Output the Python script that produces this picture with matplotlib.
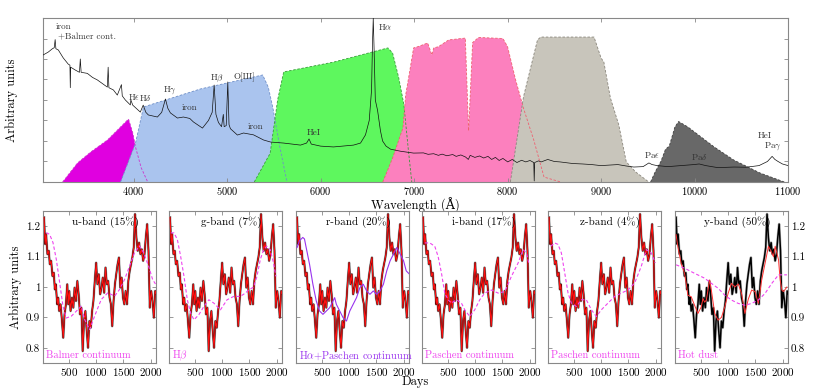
import matplotlib
matplotlib.use("Agg")
import matplotlib.pyplot as plt
import numpy as np

plt.rcParams['font.family'] = ['cmr10', 'DejaVu Serif']
plt.rcParams['mathtext.fontset'] = 'cm'
plt.rcParams['axes.formatter.use_mathtext'] = True
plt.rcParams['axes.unicode_minus'] = False

# ---------------- top panel data ----------------
spec_wl = [3033, 3087, 3130, 3150, 3160, 3168, 3194, 3247, 3300, 3318, 3322, 3326, 3376, 3420, 3429, 3438,
           3504, 3560, 3611, 3680, 3718, 3727, 3735, 3783, 3825, 3869, 3878, 3911, 3964, 3970, 3990,
           4071, 4102, 4130, 4157, 4254, 4300, 4340, 4365, 4393, 4468, 4532, 4600, 4639, 4736, 4800,
           4840, 4861, 4880, 4907, 4940, 4959, 4968, 4990, 5007, 5020, 5035, 5110, 5175, 5282, 5389,
           5464, 5603, 5785, 5850, 5876, 5900, 6000, 6138, 6352, 6427, 6480, 6520, 6545, 6555, 6563,
           6572, 6585, 6609, 6640, 6663, 6700, 6749, 6856, 6995, 7100, 7150, 7209, 7260, 7300, 7350,
           7413, 7450, 7500, 7550, 7580, 7600, 7650, 7700, 7745, 7790, 7830, 7870, 7910, 7950, 8002,
           8050, 8100, 8150, 8195, 8240, 8280, 8285, 8290, 8330, 8360, 8430, 8500, 8560, 8644, 8700,
           8800, 8900, 8998, 9100, 9180, 9270, 9351, 9450, 9512, 9546, 9600, 9715, 9850, 9993, 10050,
           10120, 10250, 10422, 10550, 10690, 10780, 10830, 10860, 10894, 10940, 11001]
spec_flux = [6.2, 6.34, 6.5, 6.55, 6.95, 6.5, 6.44, 6.05, 5.75, 5.7, 4.6, 5.6, 5.46, 5.35, 6.0, 5.35,
             5.3, 5.1, 4.98, 4.75, 4.63, 5.6, 4.6, 4.49, 4.24, 4.75, 4.2, 4.0, 3.76, 4.0, 3.75,
             3.41, 3.75, 3.4, 3.27, 3.17, 3.4, 4.05, 3.6, 3.37, 3.12, 3.17, 3.1, 2.93, 2.63, 3.0,
             3.4, 4.73, 3.3, 2.9, 2.7, 3.3, 2.7, 2.75, 4.88, 2.8, 2.6, 2.29, 2.39, 2.3, 2.05,
             1.95, 1.9, 1.8, 1.9, 2.1, 1.85, 1.75, 1.71, 1.8, 1.9, 2.3, 3.0, 4.5, 6.8, 8.0,
             6.5, 4.0, 3.5, 2.5, 2.0, 1.75, 1.6, 1.5, 1.41, 1.42, 1.35, 1.38, 1.30, 1.36, 1.28,
             1.34, 1.25, 1.32, 1.22, 1.1, 1.3, 1.2, 1.27, 1.17, 1.25, 1.1, 1.2, 1.05, 1.15, 0.98,
             1.1, 0.95, 1.06, 0.98, 1.05, 0.95, 0.05, 0.95, 1.03, 0.98, 1.1, 1.0, 0.98, 0.93, 0.9,
             0.88, 0.85, 0.8, 0.83, 0.85, 0.78, 0.73, 0.75, 0.93, 0.85, 0.8, 0.75, 0.8, 0.85, 0.88,
             0.8, 0.7, 0.73, 0.72, 0.8, 1.0, 1.25, 1.1, 1.0, 0.88, 0.8]

u_wl = [3240, 3400, 3540, 3720, 3945, 3990, 4020, 4080, 4150]
u_tr = [0, 0.93, 1.46, 2.05, 3.07, 2.4, 1.7, 0.7, 0]
g_wl = [3860, 4020, 4105, 4716, 5380, 5440, 5490, 5560, 5640]
g_tr = [0, 1.9, 3.66, 4.54, 5.22, 4.63, 3.6, 1.8, 0]
r_wl = [5290, 5460, 5540, 5605, 6140, 6720, 6770, 6835, 6890, 6940, 6975]
r_tr = [0, 1.4, 4.0, 5.37, 5.85, 6.54, 6.29, 5.1, 3.8, 1.5, 0]
i_wl = [6665, 6770, 6880, 6910, 6995, 7040, 7145, 7190, 7210, 7260, 7370, 7548, 7583, 7626, 7690,
        7950, 8000, 8085, 8170, 8280, 8390, 8570]
i_tr = [0, 1.17, 2.63, 4.24, 6.54, 6.6, 6.78, 6.2, 6.54, 6.6, 6.93, 7.02, 2.5, 6.8, 7.05,
        7.0, 6.6, 5.0, 3.6, 2.05, 0.24, 0]
z_wl = [8030, 8170, 8320, 8355, 8925, 9000, 9030, 9100, 9190, 9270, 9370, 9510]
z_tr = [0, 4.15, 6.93, 7.07, 7.07, 6.05, 5.85, 4.1, 2.78, 0.98, 0.49, 0]
y_wl = [9530, 9580, 9640, 9690, 9730, 9790, 9830, 9930, 10210, 10420, 10700, 10960]
y_tr = [0, 0.5, 1.0, 1.6, 1.75, 2.68, 2.95, 2.68, 1.71, 1.07, 0.44, 0]

filter_fill = ['#e000e0', '#aac4ee', '#5ef75e', '#fc80be', '#c8c5bb', '#686868']
filter_edge = ['#cc33cc', '#6f8fc8', '#3a9a3a', '#ee6070', '#8a867c', '#404040']

line_labels = ['iron', '+Balmer cont.', r'H$\epsilon$', r'H$\delta$', r'H$\gamma$', 'iron',
               r'H$\beta$', 'O[III]', 'iron', 'HeI', r'H$\alpha$', r'Pa$\epsilon$', r'Pa$\delta$',
               'HeI', r'Pa$\gamma$']
label_wl = [3162, 3194, 4007, 4126, 4382, 4596, 4896, 5186, 5303, 5924, 6609, 9543, 10047, 10754, 10839]
label_y = [7.56, 7.07, 4.15, 4.1, 4.49, 3.6, 5.07, 5.12, 2.68, 2.39, 7.56, 1.32, 1.22, 2.24, 1.76]
label_ha = ['left', 'left', 'center', 'center', 'center', 'center', 'center', 'center', 'center',
            'center', 'left', 'center', 'center', 'center', 'center']

# ---------------- light curves ----------------
lc_days = [40, 59, 77, 102, 127, 145, 170, 194, 219, 238, 256, 281, 300, 318, 343, 367, 392, 417,
           442, 466, 485, 503, 528, 553, 578, 602, 627, 652, 676, 701, 726, 751, 775, 800, 825, 849,
           874, 899, 924, 948, 973, 998, 1022, 1047, 1072, 1097, 1121, 1146, 1171, 1195, 1220, 1245,
           1270, 1294, 1319, 1344, 1368, 1393, 1418, 1443, 1467, 1492, 1517, 1541, 1566, 1591, 1616,
           1640, 1665, 1690, 1714, 1739, 1764, 1789, 1813, 1838, 1863, 1888, 1912, 1937, 1962, 1986,
           2011, 2036, 2061, 2085, 2110]
lc_flux = [1.229, 1.141, 1.174, 1.108, 1.119, 1.075, 1.086, 1.036, 1.047, 0.992, 1.009, 0.943, 0.965,
           0.921, 0.943, 0.893, 0.833, 0.910, 0.943, 1.009, 0.943, 0.987, 0.921, 0.965, 0.932, 0.998,
           0.954, 1.020, 0.976, 0.910, 0.932, 0.789, 0.888, 0.921, 0.855, 0.800, 0.888, 0.866, 0.921,
           0.954, 1.020, 1.080, 1.009, 1.042, 0.976, 0.998, 1.031, 0.981, 1.064, 1.009, 1.020, 0.965,
           0.943, 0.871, 0.954, 1.009, 1.042, 1.075, 1.097, 0.998, 1.031, 0.965, 0.943, 0.987, 0.943,
           1.020, 1.053, 1.075, 1.097, 1.130, 1.240, 1.163, 1.119, 1.146, 1.108, 1.124, 1.086, 1.108,
           1.163, 1.207, 1.119, 0.932, 0.987, 0.954, 0.899, 0.987, 0.976]

ymodel_days = [40, 71, 133, 195, 226, 256, 318, 380, 442, 504, 535, 566, 597, 627, 658, 689, 751, 813,
               875, 937, 998, 1060, 1122, 1184, 1245, 1307, 1369, 1431, 1493, 1554, 1616, 1678, 1740,
               1802, 1833, 1864, 1925]
ymodel_flux = [1.172, 1.134, 1.078, 1.045, 1.012, 0.973, 0.968, 0.940, 0.913, 0.935, 0.962, 0.950,
               0.957, 0.990, 1.023, 0.990, 0.913, 0.891, 0.900, 0.935, 0.979, 1.012, 1.000, 1.010,
               0.979, 0.913, 0.960, 0.990, 0.985, 0.946, 1.023, 1.078, 1.134, 1.112, 1.100, 1.134,
               1.090]
ymodel_days2 = [1956, 1987, 2018, 2080]
ymodel_flux2 = [1.023, 0.990, 0.985, 1.000]

# component curves (days, flux) per band
comp_u_days = [80, 142, 204, 265, 327, 388, 449, 541, 664, 725, 786, 878, 969, 1092, 1215, 1338,
               1430, 1522, 1614, 1706, 1797, 1871]
comp_u_flux = [1.179, 1.173, 1.146, 1.091, 1.014, 0.937, 0.898, 0.904, 0.926, 0.937, 0.893, 0.860,
               0.904, 0.959, 0.981, 0.970, 0.992, 1.025, 1.069, 1.113, 1.135, 1.113]
comp_u_days_end = [1963, 2037, 2090]
comp_u_flux_end = [1.069, 1.025, 1.010]
comp_g_days = [52, 113, 174, 235, 296, 357, 418, 479, 570, 662, 754, 845, 967, 1089, 1211, 1333,
               1425, 1486, 1578, 1639, 1700, 1761, 1822, 1883, 1944, 1987]
comp_g_flux = [1.178, 1.178, 1.156, 1.100, 1.035, 0.958, 0.914, 0.892, 0.909, 0.936, 0.958, 0.947,
               0.925, 0.958, 0.969, 0.969, 0.980, 0.990, 1.000, 1.035, 1.090, 1.123, 1.134, 1.123,
               1.079, 1.035]
comp_r_days = [40, 83, 145, 176, 207, 269, 331, 393, 454, 516, 578, 640, 701, 732, 763, 825, 887,
               949, 1010, 1072, 1134, 1196, 1258, 1320, 1381, 1443, 1505, 1567, 1629, 1690, 1752,
               1814, 1876, 1938, 2000, 2049, 2110]
comp_r_flux = [1.130, 1.152, 1.163, 1.158, 1.130, 1.075, 1.009, 0.954, 0.921, 0.910, 0.921, 0.932,
               0.954, 0.965, 0.943, 0.921, 0.899, 0.888, 0.921, 0.943, 0.965, 0.998, 1.009, 0.987,
               0.976, 0.987, 0.976, 0.987, 1.009, 1.053, 1.086, 1.108, 1.130, 1.108, 1.086, 1.053,
               1.042]
comp_i_days = [71, 163, 255, 317, 378, 439, 501, 562, 654, 746, 807, 899, 991, 1083, 1175, 1298,
               1421, 1544, 1666, 1789, 1881, 1942, 1985]
comp_i_flux = [1.145, 1.145, 1.134, 1.100, 1.046, 0.980, 0.958, 0.947, 0.958, 0.947, 0.925, 0.903,
               0.925, 0.958, 0.980, 0.990, 0.980, 0.985, 1.035, 1.079, 1.123, 1.112, 1.079]
comp_z_days = [70, 143, 205, 266, 328, 389, 450, 542, 634, 726, 818, 910, 1002, 1124, 1247, 1369,
               1492, 1614, 1737, 1829, 1921, 1995]
comp_z_flux = [1.134, 1.145, 1.140, 1.112, 1.046, 0.980, 0.947, 0.936, 0.958, 0.958, 0.925, 0.903,
               0.925, 0.947, 0.969, 0.980, 0.990, 1.013, 1.068, 1.123, 1.112, 1.079]
comp_y_days = [40, 194, 380, 565, 689, 813, 936, 1060, 1184, 1307, 1431, 1554, 1678, 1802, 1925, 2080]
comp_y_flux = [1.073, 1.062, 1.045, 1.029, 1.012, 0.996, 0.973, 0.957, 0.946, 0.940, 0.946, 0.957,
               0.979, 1.012, 1.040, 1.040]

band_titles = ['u-band (15%)', 'g-band (7%)', 'r-band (20%)', 'i-band (17%)', 'z-band (4%)', 'y-band (50%)']
comp_labels = ['Balmer continuum', r'H$\beta$', r'H$\alpha$+Paschen continuum', 'Paschen continuum',
               'Paschen continuum', 'Hot dust']
comp_colors = ['#ee44ee', '#ee44ee', '#9933ee', '#ee44ee', '#ee44ee', '#ee44ee']

yticks_lc = [0.8, 0.9, 1.0, 1.1, 1.2]
yticklabels_lc = ['0.8', '0.9', '1', '1.1', '1.2']
xticks_lc = [500, 1000, 1500, 2000]

# ---------------- figure ----------------
W, H = 830, 389
fig = plt.figure(figsize=(W / 100, H / 100), dpi=100)
spine_col = '#888888'

def style(ax):
    for s in ax.spines.values():
        s.set_color(spine_col)
        s.set_linewidth(0.8)
    ax.tick_params(direction='in', top=True, right=True, length=3, width=0.6,
                   color=spine_col, labelsize=8, pad=2)

axt = fig.add_axes([43 / W, 1 - 182 / H, (788 - 43) / W, (182 - 18) / H])
style(axt)
axt.tick_params(labelsize=7.5)
fills = [(u_wl, u_tr), (g_wl, g_tr), (r_wl, r_tr), (i_wl, i_tr), (z_wl, z_tr), (y_wl, y_tr)]
for k, (wl, tr) in enumerate(fills):
    axt.fill(wl, tr, color=filter_fill[k], lw=0, zorder=1 + k * 0.1)
for k, (wl, tr) in enumerate(fills):
    axt.plot(wl, tr, color=filter_edge[k], lw=0.6, ls=(0, (3, 2)), zorder=2)
axt.plot(spec_wl, spec_flux, color='#111111', lw=0.5, zorder=3)
for t, x, y, ha in zip(line_labels, label_wl, label_y, label_ha):
    axt.text(x, y, t, fontsize=6.5, ha=ha, va='center', color='#333333', zorder=4)
axt.set_xlim(3030, 11000)
axt.set_ylim(0, 8)
axt.set_xticks([4000, 5000, 6000, 7000, 8000, 9000, 10000, 11000])
axt.set_yticks([1, 2, 3, 4, 5, 6, 7])
axt.set_yticklabels([])
axt.set_ylabel('Arbitrary units', fontsize=9, labelpad=16)
axt.set_xlabel('Wavelength (Å)', fontsize=9, labelpad=1)

lefts = [43, 169, 296, 422, 548, 675]
comps = [(comp_u_days + comp_u_days_end, comp_u_flux + comp_u_flux_end),
         (comp_g_days, comp_g_flux), (comp_r_days, comp_r_flux), (comp_i_days, comp_i_flux),
         (comp_z_days, comp_z_flux), (comp_y_days, comp_y_flux)]
for k, L in enumerate(lefts):
    ax = fig.add_axes([L / W, 1 - 363 / H, 113 / W, (363 - 211) / H])
    style(ax)
    ax.plot(lc_days, lc_flux, color='0.72', lw=1.9, zorder=1)
    ax.plot(lc_days, lc_flux, color='black', lw=1.1, zorder=2)
    cd, cf = comps[k]
    if k == 2:
        ax.plot(cd, cf, color=comp_colors[k], lw=0.8, zorder=4)
    else:
        ax.plot(cd, cf, color=comp_colors[k], lw=0.8, ls=(0, (3, 2)), zorder=4)
    if k == 5:
        ax.plot(ymodel_days + ymodel_days2, ymodel_flux + ymodel_flux2, color='#ff3030', lw=0.7, zorder=3)
    else:
        ax.plot(lc_days, lc_flux, color='#ff1010', lw=0.8, zorder=3)
    ax.set_xlim(20, 2100)
    ax.set_ylim(0.75, 1.25)
    ax.set_xticks(xticks_lc)
    ax.set_yticks(yticks_lc)
    ax.text(0.55, 0.93, band_titles[k], transform=ax.transAxes, ha='center', va='center', fontsize=8)
    ax.text(0.03, 0.05, comp_labels[k], transform=ax.transAxes, ha='left', va='center',
            fontsize=7.5, color=comp_colors[k])
    if k == 0:
        ax.set_yticklabels(yticklabels_lc)
        ax.set_ylabel('Arbitrary units', fontsize=9, labelpad=3)
    elif k == 5:
        ax.yaxis.tick_right()
        ax.tick_params(left=True, right=True, labelleft=False, labelright=True, direction='in')
        ax.set_yticklabels(yticklabels_lc)
    else:
        ax.set_yticklabels([])

fig.text(415 / W, 1 - 382 / H, 'Days', ha='center', va='center', fontsize=9)
fig.savefig('out.png', dpi=100)
